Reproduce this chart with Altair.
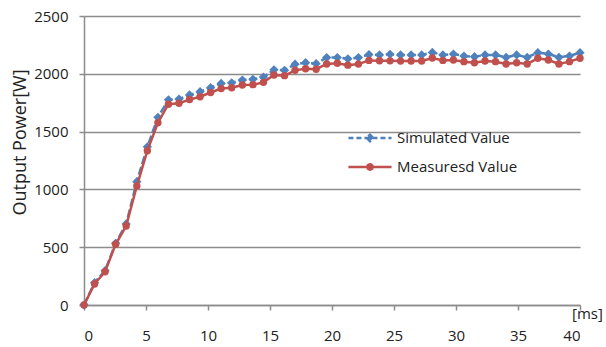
import altair as alt
import pandas as pd

# time axis [ms]
time_ms = [0, 0.85, 1.70, 2.55, 3.40, 4.26, 5.11, 5.96, 6.81, 7.66, 8.51, 9.36,
           10.21, 11.06, 11.91, 12.77, 13.62, 14.47, 15.32, 16.17, 17.02, 17.87,
           18.72, 19.57, 20.43, 21.28, 22.13, 22.98, 23.83, 24.68, 25.53, 26.38,
           27.23, 28.09, 28.94, 29.79, 30.64, 31.49, 32.34, 33.19, 34.04, 34.89,
           35.74, 36.60, 37.45, 38.30, 39.15, 40.00]

simulated = [0, 193, 297, 534, 701, 1067, 1369, 1624, 1775, 1782, 1817, 1845,
             1880, 1917, 1922, 1946, 1952, 1972, 2035, 2030, 2083, 2096, 2088, 2140,
             2141, 2130, 2140, 2166, 2163, 2169, 2163, 2163, 2163, 2185, 2163, 2171,
             2154, 2148, 2163, 2163, 2143, 2163, 2143, 2183, 2171, 2143, 2154, 2183]

measured = [0, 182, 288, 525, 683, 1029, 1335, 1577, 1737, 1745, 1777, 1802,
            1838, 1872, 1880, 1903, 1906, 1926, 1990, 1984, 2030, 2044, 2040, 2085,
            2091, 2075, 2084, 2116, 2113, 2112, 2110, 2111, 2111, 2136, 2116, 2119,
            2105, 2096, 2111, 2105, 2085, 2096, 2085, 2134, 2119, 2085, 2105, 2134]

series_names = ["Simulated Value", "Measuresd Value"]
series_colors = ["#4F81BD", "#C0504D"]
x_ticks = [0, 5, 10, 15, 20, 25, 30, 35, 40]
y_ticks = [0, 500, 1000, 1500, 2000, 2500]

df_sim = pd.DataFrame({"t": time_ms, "p": simulated, "series": series_names[0]})
df_meas = pd.DataFrame({"t": time_ms, "p": measured, "series": series_names[1]})
df_all = pd.concat([df_sim, df_meas], ignore_index=True)

FONT = "Open Sans"
TXT = "#222222"
GRID = "#8c8c8c"

# legend symbols: line + marker
sim_path = "M-1.39,0 L1.39,0 M0,-0.21 L0.21,0 L0,0.21 L-0.21,0 Z"
meas_path = ("M-1.39,0 L1.39,0 M0.17,0 A0.17,0.17 0 1,1 -0.17,0 "
             "A0.17,0.17 0 1,1 0.17,0 Z")

legend = alt.Legend(
    title=None,
    orient="none",
    legendX=269,
    legendY=105,
    padding=0,
    rowPadding=3,
    symbolSize=961,
    symbolStrokeWidth=2.5,
    symbolOpacity=1,
    labelFont=FONT,
    labelFontSize=15,
    labelColor=TXT,
    labelOffset=10,
    labelLimit=300,
)

color_scale = alt.Scale(domain=series_names, range=series_colors)

x_enc = alt.X(
    "t:Q",
    scale=alt.Scale(domain=[0, 40], nice=False),
    axis=alt.Axis(
        values=x_ticks,
        grid=False,
        title="[ms]",
        titleFont=FONT,
        titleFontSize=15,
        titleFontWeight="normal",
        titleColor=TXT,
        titleX=503,
        titleY=8,
        titleAlign="center",
        titleBaseline="middle",
        labelFont=FONT,
        labelFontSize=15,
        labelColor=TXT,
        labelPadding=18,
        labelBaseline="top",
        tickSize=5,
        tickColor=GRID,
        domainColor=GRID,
        domainWidth=1.5,
        tickWidth=1.5,
    ),
)

y_enc = alt.Y(
    "p:Q",
    scale=alt.Scale(domain=[0, 2500], nice=False),
    axis=alt.Axis(
        values=y_ticks,
        format="d",
        grid=True,
        gridColor=GRID,
        gridWidth=1.5,
        title="Output Power[W]",
        titleFont=FONT,
        titleFontSize=18,
        titleFontWeight="normal",
        titleColor=TXT,
        titleAngle=-90,
        titleX=-64,
        titleY=126,
        titleAlign="center",
        titleBaseline="middle",
        labelFont=FONT,
        labelFontSize=15,
        labelColor=TXT,
        labelPadding=11,
        tickSize=5,
        tickColor=GRID,
        tickWidth=1.5,
        domainColor=GRID,
        domainWidth=1.5,
    ),
)

color_enc = alt.Color("series:N", scale=color_scale, legend=legend)

sim_line = alt.Chart(df_sim).mark_line(strokeWidth=2.5, strokeDash=[8, 3]).encode(
    x=x_enc, y=y_enc, color=color_enc)
sim_pts = alt.Chart(df_sim).mark_point(shape="diamond", filled=True, size=85, opacity=1).encode(
    x=x_enc, y=y_enc, color=color_enc)
meas_line = alt.Chart(df_meas).mark_line(strokeWidth=2.5).encode(
    x=x_enc, y=y_enc, color=color_enc)
meas_pts = alt.Chart(df_meas).mark_point(shape="circle", filled=True, size=55, opacity=1).encode(
    x=x_enc, y=y_enc, color=color_enc)

# legend-only layer (no marks drawn)
legend_layer = alt.Chart(df_all).transform_filter("false").mark_point(
    filled=True, opacity=1, strokeWidth=2.5
).encode(
    x=x_enc,
    y=y_enc,
    color=color_enc,
    stroke=alt.Stroke("series:N", scale=alt.Scale(domain=series_names, range=series_colors), legend=legend),
    shape=alt.Shape("series:N", scale=alt.Scale(domain=series_names, range=[sim_path, meas_path]), legend=legend),
    strokeDash=alt.StrokeDash("series:N", scale=alt.Scale(domain=series_names, range=[[5, 3], [1, 0]]), legend=legend),
)

chart = alt.layer(sim_line, sim_pts, meas_line, meas_pts, legend_layer).properties(
    width=496,
    height=289,
    autosize=alt.AutoSizeParams(type="none"),
    padding={"left": 84, "top": 16, "right": 26, "bottom": 42},
    background="white",
).configure_view(stroke=None)

chart.save("out.html", embed_options={"renderer": "svg", "actions": False})
